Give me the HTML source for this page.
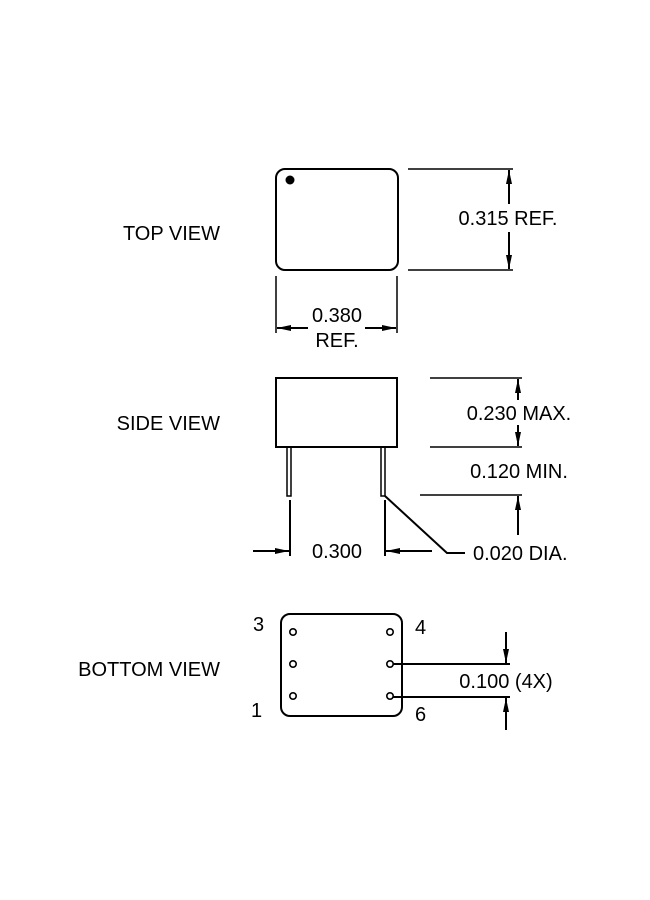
<!DOCTYPE html>
<html><head><style>body{margin:0;background:#fff}svg{display:block}text{font-family:"Liberation Sans",sans-serif;font-size:20px;fill:#000}</style></head><body>
<svg width="650" height="900" viewBox="0 0 650 900" xmlns="http://www.w3.org/2000/svg">
<defs>
<marker id="a" viewBox="0 0 14 6" refX="14" refY="3" markerWidth="14" markerHeight="6" markerUnits="userSpaceOnUse" orient="auto"><path d="M0,0L14,3L0,6z" fill="#000"/></marker>
</defs>
<g stroke="#000" fill="none" stroke-width="2">
<rect x="276" y="169" width="122" height="101" rx="9"/>
<line x1="408" y1="169" x2="513" y2="169" stroke-width="1.5"/>
<line x1="408" y1="270" x2="513" y2="270" stroke-width="1.5"/>
<line x1="509" y1="204" x2="509" y2="170" marker-end="url(#a)"/>
<line x1="509" y1="232" x2="509" y2="269" marker-end="url(#a)"/>
<line x1="276" y1="276" x2="276" y2="333" stroke-width="1.5"/>
<line x1="397" y1="276" x2="397" y2="333" stroke-width="1.5"/>
<line x1="308" y1="328" x2="277" y2="328" marker-end="url(#a)"/>
<line x1="365" y1="328" x2="396" y2="328" marker-end="url(#a)"/>
<rect x="276" y="378" width="121" height="69"/>
<rect x="287" y="447" width="4" height="49" stroke-width="1.5"/>
<rect x="381" y="447" width="4" height="49" stroke-width="1.5"/>
<line x1="290" y1="500" x2="290" y2="556"/>
<line x1="385" y1="500" x2="385" y2="556"/>
<line x1="253" y1="551" x2="289" y2="551" marker-end="url(#a)"/>
<line x1="432" y1="551" x2="386" y2="551" marker-end="url(#a)"/>
<polyline points="385,496 447,553 465,553"/>
<line x1="430" y1="378" x2="522" y2="378" stroke-width="1.5"/>
<line x1="430" y1="447" x2="522" y2="447" stroke-width="1.5"/>
<line x1="420" y1="495" x2="522" y2="495" stroke-width="1.5"/>
<line x1="518" y1="400" x2="518" y2="379" marker-end="url(#a)"/>
<line x1="518" y1="425" x2="518" y2="446" marker-end="url(#a)"/>
<line x1="518" y1="535" x2="518" y2="496" marker-end="url(#a)"/>
<rect x="281" y="614" width="121" height="102" rx="9"/>
<g stroke-width="1.6">
<circle cx="293" cy="632" r="3.2"/><circle cx="293" cy="664" r="3.2"/><circle cx="293" cy="696" r="3.2"/>
<circle cx="390" cy="632" r="3.2"/><circle cx="390" cy="664" r="3.2"/><circle cx="390" cy="696" r="3.2"/>
</g>
<line x1="393" y1="664" x2="510" y2="664"/>
<line x1="393" y1="697" x2="510" y2="697"/>
<line x1="506" y1="632" x2="506" y2="663" marker-end="url(#a)"/>
<line x1="506" y1="730" x2="506" y2="698" marker-end="url(#a)"/>
</g>
<circle cx="290" cy="180" r="4.5" fill="#000"/>
<text x="220" y="240" text-anchor="end">TOP VIEW</text>
<text x="220" y="430" text-anchor="end">SIDE VIEW</text>
<text x="220" y="676" text-anchor="end">BOTTOM VIEW</text>
<text x="508" y="225" text-anchor="middle" font-size="19">0.315 REF.</text>
<text x="337" y="322" text-anchor="middle" font-size="19">0.380</text>
<text x="337" y="347" text-anchor="middle" font-size="19">REF.</text>
<text x="519" y="420" text-anchor="middle" font-size="19">0.230 MAX.</text>
<text x="519" y="478" text-anchor="middle" font-size="19">0.120 MIN.</text>
<text x="337" y="558" text-anchor="middle" font-size="19">0.300</text>
<text x="473" y="560" font-size="19">0.020 DIA.</text>
<text x="506" y="688" text-anchor="middle" font-size="19">0.100 (4X)</text>
<text x="253" y="631" font-size="19">3</text>
<text x="415" y="634" font-size="19">4</text>
<text x="251" y="717" font-size="19">1</text>
<text x="415" y="721" font-size="19">6</text>
</svg>
</body></html>
